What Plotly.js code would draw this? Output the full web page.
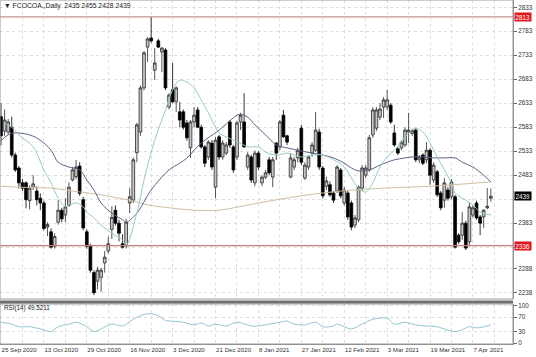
<!DOCTYPE html>
<html><head><meta charset="utf-8">
<script src="https://cdn.plot.ly/plotly-3.0.1.min.js"></script>
<style>html,body{margin:0;padding:0;background:#fff}#chart{width:536px;height:357px}</style>
</head><body><div id="chart"></div>
<script>
// Trading days (one per candle)
const dates = [
'2020-09-25','2020-09-28','2020-09-29','2020-09-30',
'2020-10-01','2020-10-02','2020-10-05','2020-10-06','2020-10-07','2020-10-08','2020-10-09','2020-10-12','2020-10-13','2020-10-14','2020-10-15','2020-10-16','2020-10-19','2020-10-20','2020-10-21','2020-10-22','2020-10-23','2020-10-26','2020-10-27','2020-10-28','2020-10-29','2020-10-30',
'2020-11-02','2020-11-03','2020-11-04','2020-11-05','2020-11-06','2020-11-09','2020-11-10','2020-11-11','2020-11-12','2020-11-13','2020-11-16','2020-11-17','2020-11-18','2020-11-19','2020-11-20','2020-11-23','2020-11-24','2020-11-25','2020-11-27','2020-11-30',
'2020-12-01','2020-12-02','2020-12-03','2020-12-04','2020-12-07','2020-12-08','2020-12-09','2020-12-10','2020-12-11','2020-12-14','2020-12-15','2020-12-16','2020-12-17','2020-12-18','2020-12-21','2020-12-22','2020-12-23','2020-12-24','2020-12-28','2020-12-29','2020-12-30','2020-12-31',
'2021-01-04','2021-01-05','2021-01-06','2021-01-07','2021-01-08','2021-01-11','2021-01-12','2021-01-13','2021-01-14','2021-01-15','2021-01-19','2021-01-20','2021-01-21','2021-01-22','2021-01-25','2021-01-26','2021-01-27','2021-01-28','2021-01-29',
'2021-02-01','2021-02-02','2021-02-03','2021-02-04','2021-02-05','2021-02-08','2021-02-09','2021-02-10','2021-02-11','2021-02-12','2021-02-16','2021-02-17','2021-02-18','2021-02-19','2021-02-22','2021-02-23','2021-02-24','2021-02-25','2021-02-26',
'2021-03-01','2021-03-02','2021-03-03','2021-03-04','2021-03-05','2021-03-08','2021-03-09','2021-03-10','2021-03-11','2021-03-12','2021-03-15','2021-03-16','2021-03-17','2021-03-18','2021-03-19','2021-03-22','2021-03-23','2021-03-24','2021-03-25','2021-03-26','2021-03-29','2021-03-30','2021-03-31',
'2021-04-01','2021-04-05','2021-04-06','2021-04-07','2021-04-08','2021-04-09','2021-04-12','2021-04-13','2021-04-14'];

const openP = [2605,2575,2573,2583,2525,2498,2467,2467,2430,2458,2450,2435,2425,2375,2365,2335,2385,2410,2400,2420,2473,2480,2502,2432,2365,2335,2280,2262,2270,2300,2325,2370,2410,2383,2340,2336,2425,2431,2530,2573,2665,2750,2769,2702,2763,2740,2744,2625,2661,2636,2615,2615,2592,2540,2594,2619,2583,2542,2521,2550,2458,2563,2521,2529,2594,2542,2521,2594,2594,2500,2521,2467,2529,2467,2479,2515,2479,2550,2542,2608,2565,2479,2500,2519,2581,2477,2500,2529,2535,2573,2498,2460,2463,2446,2450,2494,2425,2446,2425,2379,2390,2456,2483,2494,2567,2581,2604,2625,2625,2629,2571,2538,2540,2546,2573,2570,2577,2515,2525,2515,2535,2473,2490,2446,2431,2452,2438,2438,2358,2358,2383,2344,2400,2425,2396,2396,2415,2435];
const highP = [2633,2620,2600,2605,2530,2502,2475,2470,2462,2483,2460,2445,2430,2385,2372,2362,2431,2415,2435,2468,2500,2515,2510,2438,2370,2340,2285,2292,2290,2325,2355,2418,2420,2390,2360,2392,2456,2520,2592,2670,2742,2771,2813,2748,2767,2750,2748,2654,2717,2668,2636,2620,2598,2598,2625,2625,2588,2546,2556,2556,2563,2567,2556,2552,2598,2546,2596,2613,2654,2531,2525,2535,2533,2483,2494,2521,2521,2552,2598,2619,2567,2529,2521,2540,2588,2510,2525,2552,2615,2580,2502,2480,2470,2450,2504,2498,2458,2450,2430,2400,2462,2504,2504,2567,2625,2625,2633,2646,2661,2633,2588,2542,2556,2583,2613,2580,2581,2525,2529,2552,2540,2510,2494,2450,2477,2458,2475,2442,2362,2406,2388,2425,2420,2430,2400,2412,2456,2455];
const lowP = [2545,2565,2568,2520,2490,2455,2450,2414,2412,2452,2420,2410,2368,2356,2330,2330,2380,2385,2385,2417,2470,2475,2440,2368,2330,2280,2233,2245,2240,2280,2320,2350,2378,2345,2330,2330,2404,2425,2510,2565,2660,2719,2759,2681,2748,2698,2660,2620,2633,2615,2583,2578,2555,2519,2583,2581,2538,2500,2515,2494,2435,2515,2515,2525,2540,2488,2515,2577,2540,2494,2467,2460,2494,2460,2475,2483,2458,2515,2535,2561,2546,2477,2494,2510,2504,2473,2494,2521,2531,2494,2435,2452,2438,2425,2446,2435,2420,2390,2368,2373,2385,2450,2477,2490,2561,2575,2598,2602,2619,2590,2542,2525,2535,2542,2550,2565,2510,2508,2504,2508,2463,2467,2438,2410,2415,2430,2433,2330,2340,2348,2327,2337,2395,2390,2358,2373,2412,2428];
const closeP = [2565,2598,2594,2525,2494,2467,2456,2432,2456,2465,2432,2425,2372,2380,2333,2355,2410,2392,2417,2458,2494,2500,2445,2373,2335,2285,2238,2285,2285,2312,2340,2395,2383,2362,2333,2385,2438,2515,2588,2665,2738,2767,2763,2717,2750,2748,2665,2650,2636,2665,2598,2583,2561,2594,2608,2583,2542,2508,2552,2500,2556,2521,2550,2546,2546,2494,2592,2608,2542,2525,2473,2529,2500,2479,2488,2488,2515,2529,2594,2563,2552,2519,2515,2535,2510,2504,2521,2546,2577,2500,2440,2471,2442,2431,2500,2440,2452,2396,2375,2394,2458,2498,2498,2561,2619,2619,2621,2640,2640,2594,2546,2529,2552,2577,2577,2576,2515,2521,2508,2535,2483,2504,2442,2415,2467,2435,2469,2333,2344,2383,2331,2417,2415,2394,2383,2410,2418,2439];

// Moving averages (bar index, value)
const fastIdx = [1,3,5,9,12,14,16,18,19,21,23,24,26,28,31,34,35,38,40,43,46,48,50,52,54,56,58,60,61,63,65,67,69,72,74,77,80,82,84,87,90,93,96,98,100,102,104,106,108,110,113,115,116,118,120,122,124,126,127,130,132,134,137];
const fastVal = [2592,2583,2567,2542,2494,2467,2435,2417,2421,2425,2417,2406,2394,2379,2362,2348,2337,2404,2473,2556,2619,2661,2681,2677,2665,2640,2613,2583,2571,2563,2556,2550,2542,2542,2531,2525,2529,2525,2521,2525,2525,2515,2500,2477,2456,2448,2467,2500,2521,2535,2563,2577,2581,2573,2550,2521,2494,2467,2446,2431,2421,2406,2400];
const midIdx = [0,2,4,8,11,14,16,19,22,24,26,28,31,34,35,38,42,47,50,52,56,61,66,67,69,71,74,77,80,83,87,90,93,96,98,100,103,106,108,110,113,115,118,121,124,127,129,132,135,137];
const midVal = [2555,2567,2571,2567,2556,2535,2510,2500,2494,2473,2452,2425,2404,2390,2385,2404,2452,2494,2508,2519,2550,2577,2608,2610,2604,2588,2567,2546,2540,2535,2529,2525,2519,2508,2498,2492,2494,2504,2510,2515,2519,2521,2521,2519,2519,2519,2510,2500,2483,2469];
const slowIdx = [0,5,14,22,28,33,36,41,47,54,61,65,72,84,95,107,120,137];
const slowVal = [2460,2458,2456,2448,2442,2435,2431,2421,2415,2410,2410,2415,2425,2440,2450,2456,2460,2469];

// RSI(14)
const rsiIdx = [0,3,5,8,11,14,16,19,21,24,26,28,31,34,37,40,42,44,46,48,51,54,56,58,60,63,66,70,72,74,78,80,82,85,88,90,93,94,96,98,101,104,108,110,113,116,119,122,124,127,129,131,133,136,137];
const rsiVal = [56,51,44,44,38,31,44,51,56,44,31,38,51,46,64,77,79,74,61,59,56,49,54,46,51,46,56,46,46,49,56,59,51,49,56,44,46,51,44,38,51,64,67,51,56,49,46,44,38,31,36,44,41,46,49.52];

const tickDates = ['2020-09-25','2020-10-13','2020-10-29','2020-11-16','2020-12-03','2020-12-21','2021-01-08','2021-01-27','2021-02-12','2021-03-03','2021-03-19','2021-04-07'];
const tickLabels = ['25 Sep 2020','13 Oct 2020','29 Oct 2020','16 Nov 2020','3 Dec 2020','21 Dec 2020','8 Jan 2021','27 Jan 2021','12 Feb 2021','3 Mar 2021','19 Mar 2021','7 Apr 2021'];

const priceTicks = [2833,2783,2733,2683,2633,2583,2533,2483,2433,2383,2333,2288,2238];
const priceTickText = ['2833','2783','2733','2683','2633','2583','2533','2483','','2383','','2288','2238'];
const rsiTicks = [0,30,70,100];

const resistance = 2813, support = 2336, lastClose = 2439;
const titleText = '\u25BC FCOCOA.,Daily  2435 2455 2428 2439';
const rsiText = 'RSI(14) 49.5211';

const idx = dates.map((d, i) => i);
const grid = '#dedede';
const FONT = 'Liberation Sans, Arial, sans-serif';

const traces = [
  {type:'candlestick', x: idx, open: openP, high: highP, low: lowP, close: closeP,
   increasing:{line:{color:'#2a2a2a', width:0.8}, fillcolor:'#c6c6c6'},
   decreasing:{line:{color:'#000', width:0.8}, fillcolor:'#000'},
   whiskerwidth:0, hoverinfo:'none', xaxis:'x', yaxis:'y'},
  {type:'scatter', mode:'lines', x: slowIdx, y: slowVal, line:{color:'#cfbfa2', width:1, shape:'spline'}, xaxis:'x', yaxis:'y', hoverinfo:'none'},
  {type:'scatter', mode:'lines', x: midIdx, y: midVal, line:{color:'#5f5f88', width:1, shape:'spline'}, xaxis:'x', yaxis:'y', hoverinfo:'none'},
  {type:'scatter', mode:'lines', x: fastIdx, y: fastVal, line:{color:'#96cbc4', width:1, shape:'spline'}, xaxis:'x', yaxis:'y', hoverinfo:'none'},
  {type:'scatter', mode:'lines', x: rsiIdx, y: rsiVal, line:{color:'#92c6d0', width:1, shape:'spline'}, xaxis:'x', yaxis:'y2', hoverinfo:'none'}
];

const mainDom = [0.1308, 1], rsiDom = [0, 0.1163];
const layout = {
  width:536, height:357, margin:{l:0, r:23, t:0, b:13},
  paper_bgcolor:'#fff', plot_bgcolor:'#fff', showlegend:false,
  font:{family:FONT, size:6, color:'#333'},
  boxgap:0.15, boxgroupgap:0.1,
  xaxis:{anchor:'y2', range:[-0.28, 143.2], tickmode:'array',
    tickvals: tickDates.map(d => dates.indexOf(d)), ticktext: tickLabels, tickangle:0,
    ticklabelposition:'outside right', ticks:'', showgrid:true, gridcolor:grid, griddash:'dot', gridwidth:1,
    minor:{tick0:0, dtick:6, showgrid:true, gridcolor:grid, griddash:'dot', gridwidth:1},
    zeroline:false, showline:true, linecolor:'#8a8a8a', linewidth:1,
    rangeslider:{visible:false}, fixedrange:true, tickfont:{size:6.2, color:'#333'}},
  yaxis:{domain:mainDom, side:'right', range:[2224.9, 2848.2], tickmode:'array', tickvals:priceTicks, ticktext:priceTickText,
    ticks:'outside', ticklen:3, tickcolor:'#666', showgrid:true, gridcolor:grid, griddash:'dot', gridwidth:1,
    zeroline:false, showline:true, linecolor:'#8a8a8a', linewidth:1, fixedrange:true, tickfont:{size:6.3, color:'#333'}},
  yaxis2:{domain:rsiDom, side:'right', range:[-2.7, 105.4], tickmode:'array', tickvals:rsiTicks,
    ticks:'outside', ticklen:3, tickcolor:'#666', showgrid:true, gridcolor:grid, griddash:'dot', gridwidth:1,
    zeroline:false, showline:true, linecolor:'#8a8a8a', linewidth:1, fixedrange:true, tickfont:{size:6.3, color:'#333'}},
  shapes:[
    {type:'line', xref:'paper', yref:'y', x0:0, x1:1, y0:resistance, y1:resistance, line:{color:'#c79292', width:1.2}},
    {type:'line', xref:'paper', yref:'y', x0:0, x1:1, y0:support, y1:support, line:{color:'#c47c7c', width:1.2}},
    {type:'rect', xref:'paper', yref:'paper', x0:0, x1:1, y0:mainDom[0], y1:mainDom[1], line:{color:'#9a9a9a', width:1}},
    {type:'rect', xref:'paper', yref:'paper', x0:0, x1:1, y0:rsiDom[0], y1:rsiDom[1], line:{color:'#9a9a9a', width:1}},
    {type:'line', xref:'paper', yref:'paper', x0:0, x1:1, y0:0.1221, y1:0.1221, line:{color:'#707070', width:2.8}}
  ],
  annotations:[
    {xref:'paper', yref:'paper', x:0.004, y:0.983, xanchor:'left', yanchor:'middle', text:titleText, showarrow:false, font:{family:FONT, size:6.8, color:'#222'}},
    {xref:'paper', yref:'paper', x:0.004, y:0.105, xanchor:'left', yanchor:'middle', text:rsiText, showarrow:false, font:{family:FONT, size:6.3, color:'#222'}},
    {xref:'paper', yref:'y', x:1, y:resistance, xanchor:'left', yanchor:'middle', xshift:1, text:String(resistance), showarrow:false, bgcolor:'#e3161d', borderpad:0.5, font:{family:FONT, size:6.3, color:'#fff'}},
    {xref:'paper', yref:'y', x:1, y:support, xanchor:'left', yanchor:'middle', xshift:1, text:String(support), showarrow:false, bgcolor:'#e3161d', borderpad:0.5, font:{family:FONT, size:6.3, color:'#fff'}},
    {xref:'paper', yref:'y', x:1, y:lastClose, xanchor:'left', yanchor:'middle', xshift:1, text:String(lastClose), showarrow:false, bgcolor:'#000', borderpad:0.5, font:{family:FONT, size:6.3, color:'#fff'}}
  ]
};

Plotly.newPlot('chart', traces, layout, {staticPlot:true, displayModeBar:false});
</script>
</body></html>
